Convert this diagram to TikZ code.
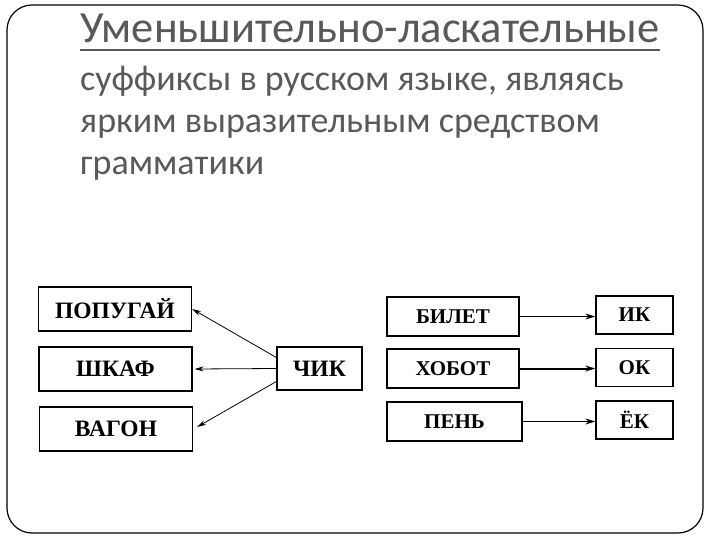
\documentclass[tikz,border=0pt]{standalone}
\usepackage{fontspec}
\newfontfamily\slidefont{Carlito}
\newfontfamily\boxfont{Liberation Serif}
\usetikzlibrary{positioning, arrows.meta}
\definecolor{slidegray}{HTML}{595959}

\begin{document}
\begin{tikzpicture}[x=1pt, y=-1pt,
    heading/.style={anchor=base west, inner sep=0pt, text=slidegray,
                    font=\slidefont\fontsize{44.5}{52}\selectfont},
    bodyline/.style={anchor=base west, inner sep=0pt, text=slidegray,
                     font=\slidefont\fontsize{36}{42}\selectfont},
    wordbox/.style={rectangle, draw, line width=1.3pt,
                    minimum width=153pt, minimum height=44pt,
                    font=\boxfont\bfseries\fontsize{23.5}{26}\selectfont},
    partbox/.style={rectangle, draw, line width=1.3pt,
                    minimum width=132pt, minimum height=39pt,
                    font=\boxfont\bfseries\fontsize{21}{23}\selectfont},
    sfxbox/.style={partbox, minimum width=77pt, minimum height=38pt},
    link/.style={-{Stealth[length=9pt, width=5pt]}, line width=0.8pt},
    bond/.style={-{Stealth[length=10pt, width=6pt]}, line width=1pt}
]
  \useasboundingbox (0,0) rectangle (720,540);
  % Slide frame
  \draw[line width=1.2pt, rounded corners=25pt] (7,5) rectangle (703,533);

  % Heading
  \node[heading] (title) at (80,43) {Уменьшительно-ласкательные};
  \draw[slidegray, line width=2.6pt]
    ([yshift=-7pt]title.base west) -- ([yshift=-7pt]title.base east);
  \node[bodyline] (l1) at (80,91) {суффиксы в русском языке, являясь};
  \node[bodyline] (l2) at (80,133) {ярким выразительным средством};
  \node[bodyline] (l3) at (80,175) {грамматики};

  % Left scheme
  \node[wordbox] (popugai) at (115,309) {ПОПУГАЙ};
  \node[wordbox] (shkaf) at (115.5,369) {ШКАФ};
  \node[wordbox] (vagon) at (116,429) {ВАГОН};
  \node[wordbox, minimum width=85pt, minimum height=43pt] (chik) at (319.5,368.5) {ЧИК};

  \draw[link] ([yshift=11pt]chik.west) -- (popugai.east);
  \draw[link] (chik.west) -- ([xshift=2pt]shkaf.east);
  \draw[link] ([yshift=-13pt]chik.west) -- ([xshift=4pt, yshift=2pt]vagon.east);

  % Right scheme
  \node[partbox] (bilet) at (453,316.5) {БИЛЕТ};
  \node[partbox] (hobot) at (453,368.5) {ХОБОТ};
  \node[partbox, minimum width=135pt] (pen) at (454.5,421.5) {ПЕНЬ};
  \node[sfxbox] (ik) at (634.5,315) {ИК};
  \node[sfxbox] (ok) at (634.5,367.5) {ОК};
  \node[sfxbox] (ek) at (634.5,420) {ЁК};

  \draw[bond] (bilet.east) -- (bilet.east -| ik.west);
  \draw[bond, line width=2pt] (hobot.east) -- (hobot.east -| ok.west);
  \draw[bond] (pen.east) -- (pen.east -| ek.west);
\end{tikzpicture}
\end{document}
